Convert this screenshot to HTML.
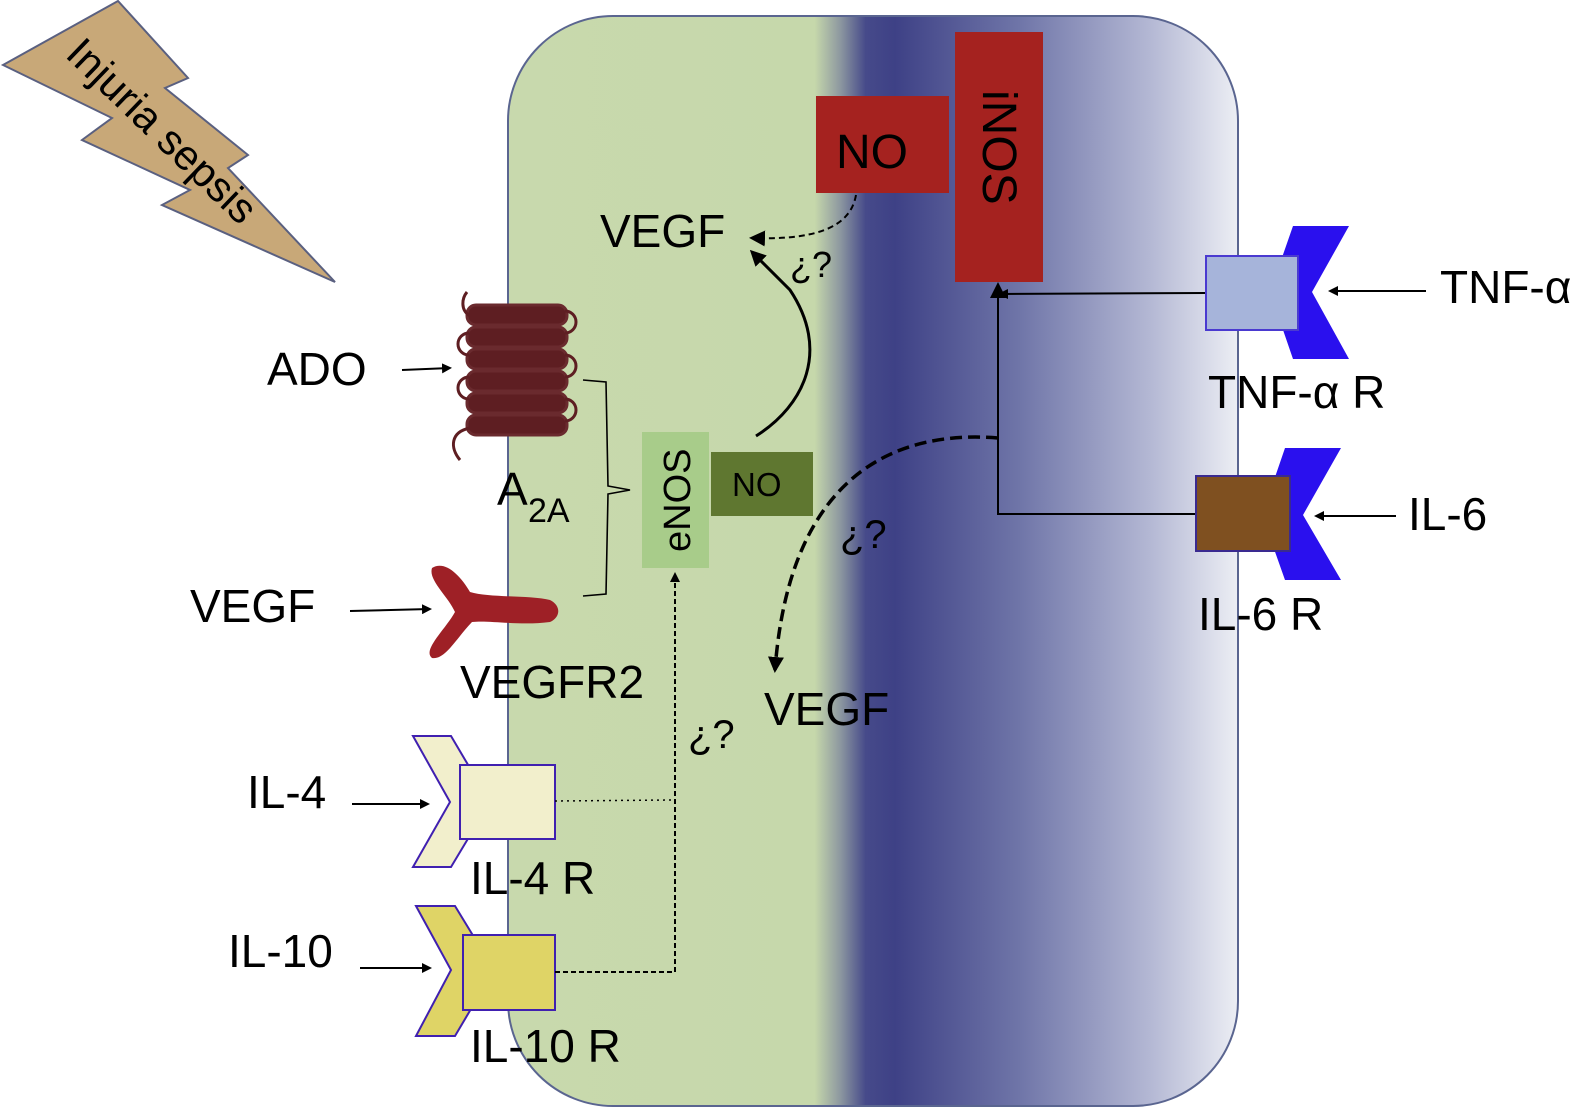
<!DOCTYPE html>
<html><head><meta charset="utf-8"><style>html,body{margin:0;padding:0;background:#fff}svg{display:block}text{font-family:"Liberation Sans",Arial,sans-serif;fill:#000}</style></head><body>
<svg width="1583" height="1109" viewBox="0 0 1583 1109" xmlns="http://www.w3.org/2000/svg">
<defs>
<linearGradient id="cg" x1="508" y1="0" x2="1238" y2="0" gradientUnits="userSpaceOnUse">
<stop offset="0" stop-color="#c8d9ad"/>
<stop offset="0.42" stop-color="#c6d8ab"/>
<stop offset="0.455" stop-color="#8d98a0"/>
<stop offset="0.49" stop-color="#464a8a"/>
<stop offset="0.53" stop-color="#3e4186"/>
<stop offset="0.7" stop-color="#6f75a8"/>
<stop offset="0.88" stop-color="#b4b8d4"/>
<stop offset="1" stop-color="#eceef4"/>
</linearGradient>
<marker id="ah" markerWidth="10" markerHeight="10" refX="8" refY="5" orient="auto" markerUnits="userSpaceOnUse"><path d="M0,0 L10,5 L0,10 Z" fill="#000"/></marker>
<marker id="ahb" markerWidth="16" markerHeight="16" refX="13" refY="8" orient="auto" markerUnits="userSpaceOnUse"><path d="M0,0 L16,8 L0,16 Z" fill="#000"/></marker>
</defs>
<rect x="508" y="16" width="730" height="1090" rx="105" fill="url(#cg)" stroke="#5a6590" stroke-width="2"/>
<polygon points="3,65 118,1 188,78 165,88 248,155 228,168 335,282 162,205 190,190 82,140 112,118" fill="#c8a878" stroke="#5a6080" stroke-width="2"/>
<text x="0" y="0" font-size="42" transform="translate(64,56) rotate(44)">Injuria sepsis</text>
<g fill="#5e1e22" stroke="#6a2a2e" stroke-width="3">
<rect x="467" y="305" width="100" height="20" rx="9"/>
<rect x="467" y="327" width="100" height="20" rx="9"/>
<rect x="467" y="349" width="100" height="20" rx="9"/>
<rect x="467" y="371" width="100" height="20" rx="9"/>
<rect x="467" y="393" width="100" height="20" rx="9"/>
<rect x="467" y="415" width="100" height="20" rx="9"/>
</g>
<g fill="none" stroke="#5e1e22" stroke-width="3">
<path d="M470,316 C460,310 462,298 467,292"/>
<path d="M565,311 a8,8 0 0 1 0,22"/><path d="M565,355 a8,8 0 0 1 0,22"/><path d="M565,399 a8,8 0 0 1 0,22"/>
<path d="M469,333 a8,8 0 0 0 0,22"/><path d="M469,377 a8,8 0 0 0 0,22"/>
<path d="M470,428 C450,432 450,448 460,460"/>
</g>
<path d="M432,568 C445,560 460,575 470,592 C490,598 530,595 550,600 C562,606 560,618 550,622 C520,626 490,620 472,622 C455,640 445,660 432,658 C422,650 445,630 455,612 C448,596 428,580 432,568 Z" fill="#9e2026"/>
<path d="M583,380 L606,382 L608,486 L630,490 L608,494 L606,594 L583,596" fill="none" stroke="#000" stroke-width="1.6"/>
<rect x="642" y="432" width="67" height="136" fill="#a8cc8a"/>
<text x="0" y="0" font-size="38" transform="translate(690,552) rotate(-90)">eNOS</text>
<rect x="711" y="452" width="102" height="64" fill="#5f7730"/>
<text x="732" y="496" font-size="33">NO</text>
<rect x="816" y="96" width="133" height="97" fill="#a5221f"/>
<text x="836" y="168" font-size="48">NO</text>
<rect x="955" y="32" width="88" height="250" fill="#a5221f"/>
<text x="0" y="0" font-size="48" transform="translate(983,90) rotate(90)">iNOS</text>
<text x="600" y="247" font-size="46">VEGF</text>
<text x="790" y="277" font-size="36">¿?</text>
<path d="M856,195 C850,230 810,240 752,238" fill="none" stroke="#000" stroke-width="2" stroke-dasharray="6,4" marker-end="url(#ahb)"/>
<path d="M756,436 C805,405 830,350 790,290 L752,252" fill="none" stroke="#000" stroke-width="3" marker-end="url(#ahb)"/>
<path d="M998,438 C900,430 790,470 775,670" fill="none" stroke="#000" stroke-width="3.5" stroke-dasharray="12,6" marker-end="url(#ahb)"/>
<text x="840" y="548" font-size="40">¿?</text>
<text x="764" y="725" font-size="46">VEGF</text>
<text x="688" y="748" font-size="40">¿?</text>
<path d="M1206,293 L1000,294" fill="none" stroke="#000" stroke-width="2" marker-end="url(#ah)"/>
<path d="M1196,514 L998,514 L998,285" fill="none" stroke="#000" stroke-width="2" marker-end="url(#ahb)"/>
<polygon points="1293,226 1349,226 1312,292 1349,359 1293,359 1270,292" fill="#2a10ee"/>
<rect x="1206" y="256" width="92" height="74" fill="#a6b4da" stroke="#4a3ad0" stroke-width="2"/>
<polygon points="1285,448 1341,448 1303,515 1341,580 1285,580 1262,515" fill="#2a10ee"/>
<rect x="1196" y="476" width="94" height="75" fill="#7f5020" stroke="#3a2a90" stroke-width="2"/>
<line x1="1426" y1="291" x2="1330" y2="291" stroke="#000" stroke-width="2" marker-end="url(#ah)"/>
<line x1="1396" y1="516" x2="1316" y2="516" stroke="#000" stroke-width="2" marker-end="url(#ah)"/>
<text x="1440" y="303" font-size="46">TNF-α</text>
<text x="1208" y="408" font-size="46">TNF-α R</text>
<text x="1408" y="530" font-size="46">IL-6</text>
<text x="1198" y="630" font-size="46">IL-6 R</text>
<text x="267" y="385" font-size="46">ADO</text>
<line x1="402" y1="370" x2="450" y2="368" stroke="#000" stroke-width="2" marker-end="url(#ah)"/>
<text x="497" y="505" font-size="46">A</text>
<text x="528" y="522" font-size="34">2A</text>
<text x="190" y="622" font-size="46">VEGF</text>
<line x1="350" y1="611" x2="430" y2="609" stroke="#000" stroke-width="2" marker-end="url(#ah)"/>
<text x="460" y="698" font-size="46">VEGFR2</text>
<polygon points="413,736 451,736 490,802 451,867 413,867 450,802" fill="#f2efcc" stroke="#4020b0" stroke-width="2"/>
<rect x="460" y="765" width="95" height="74" fill="#f2efcc" stroke="#4020b0" stroke-width="2"/>
<text x="247" y="808" font-size="46">IL-4</text>
<line x1="352" y1="804" x2="428" y2="804" stroke="#000" stroke-width="2" marker-end="url(#ah)"/>
<text x="470" y="894" font-size="46">IL-4 R</text>
<line x1="555" y1="801" x2="672" y2="800" stroke="#000" stroke-width="1.5" stroke-dasharray="2,4"/>
<polygon points="416,906 455,906 494,970 455,1036 416,1036 451,970" fill="#dfd466" stroke="#4020b0" stroke-width="2"/>
<rect x="463" y="935" width="92" height="75" fill="#dfd466" stroke="#4020b0" stroke-width="2"/>
<text x="228" y="967" font-size="46">IL-10</text>
<line x1="360" y1="968" x2="430" y2="968" stroke="#000" stroke-width="2" marker-end="url(#ah)"/>
<text x="470" y="1062" font-size="46">IL-10 R</text>
<path d="M555,972 L675,972 L675,574" fill="none" stroke="#000" stroke-width="2" stroke-dasharray="5,3" marker-end="url(#ah)"/>
</svg>
</body></html>
